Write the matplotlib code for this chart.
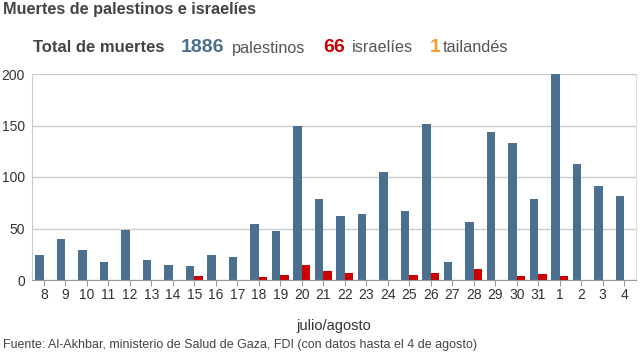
import matplotlib
matplotlib.use("Agg")
import matplotlib.pyplot as plt
import numpy as np

plt.rcParams["font.family"] = ["Liberation Sans", "DejaVu Sans"]

# julio 8..31, agosto 1..4
days = ["8", "9", "10", "11", "12", "13", "14", "15", "16", "17", "18", "19",
        "20", "21", "22", "23", "24", "25", "26", "27", "28", "29", "30", "31",
        "1", "2", "3", "4"]
palestinos = [24, 40, 29, 17, 49, 19, 15, 14, 24, 22, 54, 48,
              150, 79, 62, 64, 105, 67, 151, 17, 56, 144, 133, 79,
              200, 113, 91, 82]
israelies = [0, 0, 0, 0, 0, 0, 0, 4, 0, 0, 3, 5,
             15, 9, 7, 0, 0, 5, 7, 0, 11, 0, 4, 6,
             4, 0, 0, 0]

BLUE = "#4a6f8f"
RED = "#cc0000"
ORANGE = "#f39c26"
TEXT = "#333333"

fig = plt.figure(figsize=(6.4, 3.54), dpi=100)
ax = fig.add_axes([32 / 640, 1 - 280 / 354, 604 / 640, 206 / 354])

x = np.arange(len(days))
w = 0.4
ax.bar(x - w / 2, palestinos, width=w, color=BLUE, zorder=3)
ax.bar(x + w / 2, israelies, width=w, color=RED, zorder=3)

ax.set_xlim(-0.55, len(days) - 0.45)
ax.set_ylim(0, 200)
ax.set_yticks([0, 50, 100, 150, 200])
ax.set_xticks(x)
ax.set_xticklabels(days)
ax.grid(axis="y", color="#cccccc", linewidth=1, zorder=0)
ax.tick_params(axis="y", length=0, labelsize=10, labelcolor=TEXT, pad=5)
ax.tick_params(axis="x", length=4, color="#999999", labelsize=10,
               labelcolor=TEXT, pad=2)
ax.spines["top"].set_visible(False)
ax.spines["left"].set_color("#cccccc")
ax.spines["right"].set_color("#dddddd")
ax.spines["bottom"].set_color("#999999")
ax.spines["bottom"].set_zorder(4)
ax.set_xlabel("julio/agosto", fontsize=10.5, color=TEXT, labelpad=12)

fig.text(3 / 640, 1 - 2 / 354, "Muertes de palestinos e israelíes",
         fontsize=11.7, fontweight="bold", color="#444444", va="top")

yy = 1 - 48 / 354
fig.text(33 / 640, yy, "Total de muertes", fontsize=12, fontweight="bold",
         color="#444444", va="center")
fig.text(181 / 640, yy, "1886", fontsize=14, fontweight="bold", color=BLUE,
         va="center")
fig.text(232 / 640, yy, "palestinos", fontsize=11.7, color="#555555",
         va="center")
fig.text(323 / 640, yy, "66", fontsize=14, fontweight="bold", color=RED,
         va="center")
fig.text(352 / 640, yy, "israelíes", fontsize=11.7, color="#555555",
         va="center")
fig.text(430 / 640, yy, "1", fontsize=14, fontweight="bold", color=ORANGE,
         va="center")
fig.text(443 / 640, yy, "tailandés", fontsize=11.7, color="#555555",
         va="center")

fig.text(3 / 640, 1 - 345 / 354,
         "Fuente: Al-Akhbar, ministerio de Salud de Gaza, FDI (con datos hasta el 4 de agosto)",
         fontsize=9, color="#444444", va="center")

fig.savefig("out.png", dpi=100)
